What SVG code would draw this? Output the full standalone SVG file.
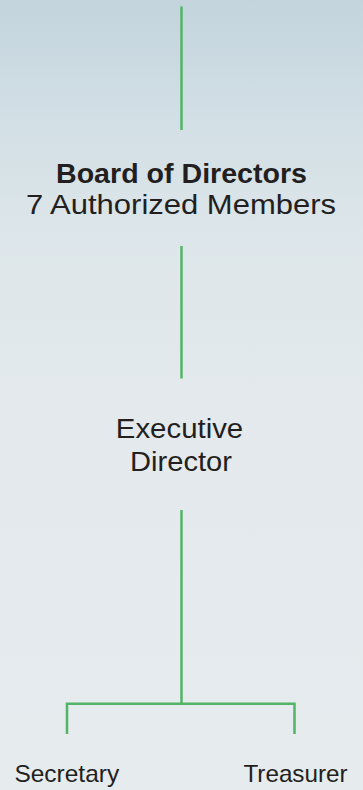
<svg xmlns="http://www.w3.org/2000/svg" width="363" height="790" viewBox="0 0 363 790">
  <defs>
    <linearGradient id="bg" x1="0" y1="0" x2="0" y2="1">
      <stop offset="0" stop-color="#c3d4dd"/>
      <stop offset="0.15" stop-color="#d2dfe5"/>
      <stop offset="0.3" stop-color="#dde6ea"/>
      <stop offset="0.5" stop-color="#e3e9ec"/>
      <stop offset="1" stop-color="#e6ebee"/>
    </linearGradient>
    <style>
      .conn { stroke: #52b466; stroke-width: 2.5; fill: none; stroke-linecap: butt; }
      .t { font-family: "Liberation Sans", Arial, sans-serif; fill: #231f20; text-anchor: middle; }
      .b { font-weight: bold; }
    </style>
  </defs>
  <rect x="0" y="0" width="363" height="790" fill="url(#bg)"/>
  <g id="connectors">
    <line class="conn" x1="181.5" y1="6.5" x2="181.5" y2="130"/>
    <line class="conn" x1="181.5" y1="246" x2="181.5" y2="378.5"/>
    <line class="conn" x1="181.5" y1="510" x2="181.5" y2="703.8"/>
    <polyline class="conn" points="67,734 67,703.8 294.5,703.8 294.5,734"/>
  </g>
  <g id="board">
    <text class="t b" transform="translate(181.5,182.7) scale(1.04,1)" x="0" y="0" font-size="27.5">Board of Directors</text>
    <text class="t" transform="translate(181,214.3) scale(1.14,1)" x="0" y="0" font-size="27.2">7 Authorized Members</text>
  </g>
  <g id="executive">
    <text class="t" transform="translate(179.5,438.3) scale(1.05,1)" x="0" y="0" font-size="28">Executive</text>
    <text class="t" transform="translate(181,471) scale(1.04,1)" x="0" y="0" font-size="28">Director</text>
  </g>
  <g id="secretary">
    <text class="t" transform="translate(66.8,781.7) scale(1.02,1)" x="0" y="0" font-size="24">Secretary</text>
  </g>
  <g id="treasurer">
    <text class="t" transform="translate(295.5,781.7) scale(1.01,1)" x="0" y="0" font-size="24">Treasurer</text>
  </g>
</svg>
